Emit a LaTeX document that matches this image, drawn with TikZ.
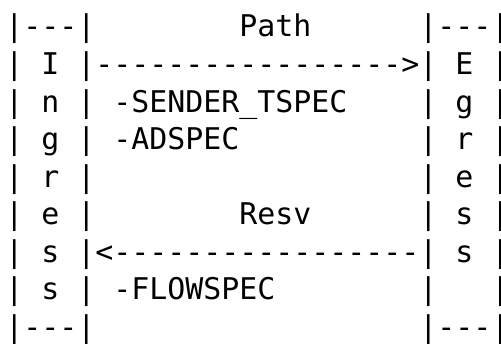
\documentclass[tikz,border=0pt]{standalone}
\usepackage{fontspec}
\setmonofont{DejaVu Sans Mono}

\begin{document}
\begin{tikzpicture}[x=.5pt,y=.5pt,
  txt/.style={anchor=base west,inner sep=0pt,font=\ttfamily\fontsize{14.95}{18}\selectfont}]
\path[use as bounding box] (0,0) rectangle (501,343);
% Ingress column
\node[txt] (lb1) at (5,306) {|---|};
\node[txt] (lb2) at (5,268.5) {| I |};
\node[txt] (lb3) at (5,231) {| n |};
\node[txt] (lb4) at (5,193.5) {| g |};
\node[txt] (lb5) at (5,156) {| r |};
\node[txt] (lb6) at (5,118.5) {| e |};
\node[txt] (lb7) at (5,81) {| s |};
\node[txt] (lb8) at (5,43.5) {| s |};
\node[txt] (lb9) at (5,6) {|---|};
% Egress column
\node[txt] (rb1) at (419,306) {|---|};
\node[txt] (rb2) at (419,268.5) {| E |};
\node[txt] (rb3) at (419,231) {| g |};
\node[txt] (rb4) at (419,193.5) {| r |};
\node[txt] (rb5) at (419,156) {| e |};
\node[txt] (rb6) at (419,118.5) {| s |};
\node[txt] (rb7) at (419,81) {| s |};
\node[txt] (rb8) at (419,43.5) {|~~~|};
\node[txt] (rb9) at (419,6) {|---|};
% messages
\node[txt] (pathlbl) at (239,306) {Path};
\node[txt] (pathline) at (95,268.5) {----------------->};
\node[txt] (tspec) at (113,231) {-SENDER\_TSPEC};
\node[txt] (adspec) at (113,193.5) {-ADSPEC};
\node[txt] (resvlbl) at (239,118.5) {Resv};
\node[txt] (resvline) at (95,81) {<-----------------};
\node[txt] (flowspec) at (113,43.5) {-FLOWSPEC};
\end{tikzpicture}
\end{document}
